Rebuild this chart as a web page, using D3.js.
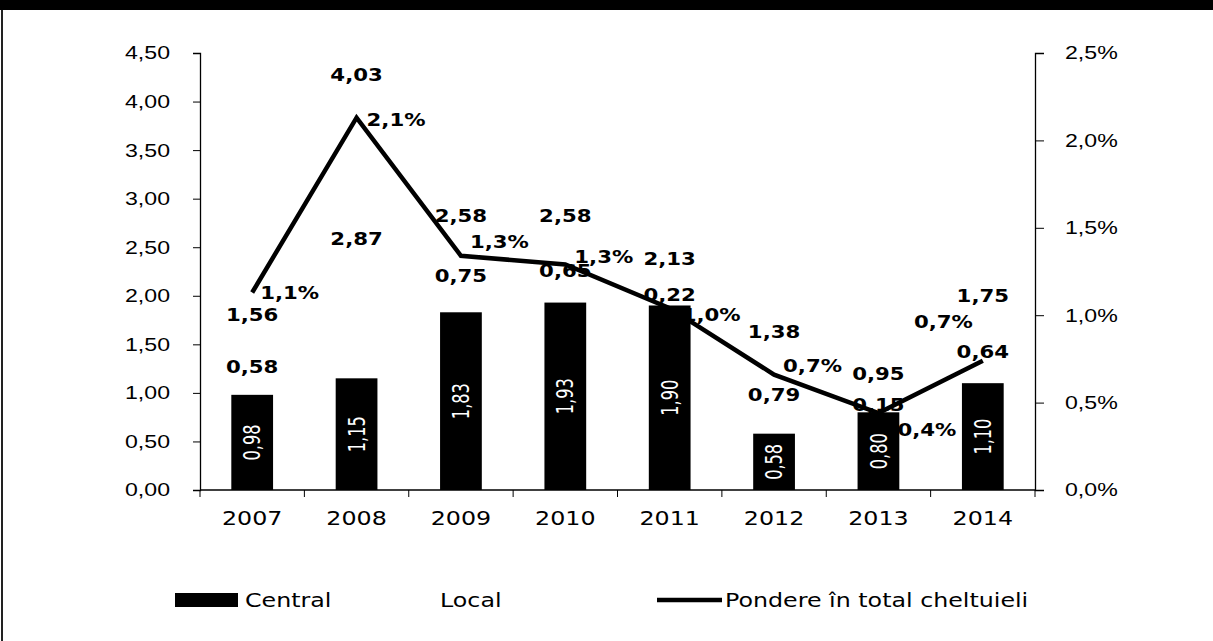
<!DOCTYPE html>
<html>
<head>
<meta charset="utf-8">
<script src="https://cdn.jsdelivr.net/npm/d3@7"></script>
<style>
  body { margin: 0; background: #fff; }
  svg { display: block; font-family: "DejaVu Sans", Verdana, sans-serif; }
</style>
</head>
<body>
<div id="main"></div>
<script>
// data
const years    = ["2007", "2008", "2009", "2010", "2011", "2012", "2013", "2014"];
const central  = [0.98, 1.15, 1.83, 1.93, 1.90, 0.58, 0.80, 1.10];
const local    = [0.58, 2.87, 0.75, 0.65, 0.22, 0.79, 0.15, 0.64];
const totals   = [1.56, 4.03, 2.58, 2.58, 2.13, 1.38, 0.95, 1.75];
const pondere  = [1.13, 2.13, 1.34, 1.29, 1.04, 0.66, 0.44, 0.74]; // % of total spending
const leftTicks  = [0, 0.5, 1, 1.5, 2, 2.5, 3, 3.5, 4, 4.5];
const rightTicks = [0, 0.5, 1, 1.5, 2, 2.5];
const legendLabels = ["Central", "Local", "Pondere în total cheltuieli"];

const ctx = {
  w: 1213, h: 641,
  left: 200, right: 1035, top: 53, bottom: 490,
  sx: 1.25 // the source is a stretched scan, text is wider than it is tall
};

// nudges of the percent labels around their points (dx, dy, anchor)
const pctNudge = [[8, 0], [10, 2], [9, -14], [9, -8], [12, 7], [9, -9], [19, 17], [-10, -39, "end"]];

const ro = d3.formatLocale({decimal: ",", thousands: ".", grouping: [3], currency: ["", ""]});
const f2 = ro.format(".2f"), f1 = ro.format(".1f");

function label(g, x, y, txt, opts = {}) {
  const t = g.append("g")
    .attr("transform", `translate(${x},${y}) scale(${ctx.sx},1)` + (opts.rotate ? ` rotate(${opts.rotate})` : ""))
    .append("text")
    .attr("text-anchor", opts.anchor || "middle")
    .attr("dy", "0.36em")
    .attr("font-size", opts.size || 17)
    .attr("font-weight", opts.weight || "normal")
    .attr("fill", opts.fill || "#000")
    .text(txt);
  if (opts.family) t.attr("font-family", opts.family);
  return t;
}

function createViz() {
  const svg = d3.select("#main").append("svg")
    .attr("width", ctx.w).attr("height", ctx.h);

  // frame
  svg.append("rect").attr("x", 0).attr("y", 0).attr("width", ctx.w).attr("height", 10).attr("fill", "#000");
  svg.append("line").attr("x1", 2).attr("x2", 2).attr("y1", 10).attr("y2", ctx.h)
     .attr("stroke", "#222").attr("stroke-width", 2);

  const x = d3.scaleBand().domain(years).range([ctx.left, ctx.right])
              .paddingInner(0.6).paddingOuter(0.3);
  const y = d3.scaleLinear().domain([0, 4.5]).range([ctx.bottom, ctx.top]);
  const y2 = d3.scaleLinear().domain([0, 2.5]).range([ctx.bottom, ctx.top]);
  const cx = d => x(d) + x.bandwidth() / 2;

  // axes
  const gl = svg.append("g").attr("transform", `translate(${ctx.left},0)`)
    .call(d3.axisLeft(y).tickValues(leftTicks).tickFormat(f2).tickSizeOuter(0).tickSize(7));
  gl.selectAll("text").attr("x", -30 / ctx.sx).attr("transform", `scale(${ctx.sx},1)`);

  const gr = svg.append("g").attr("transform", `translate(${ctx.right},0)`)
    .call(d3.axisRight(y2).tickValues(rightTicks).tickFormat(d => f1(d) + "%").tickSizeOuter(0).tickSize(9));
  gr.selectAll("text").attr("x", 30 / ctx.sx).attr("transform", `scale(${ctx.sx},1)`);

  [gl, gr].forEach(g => {
    g.select(".domain").attr("stroke", "#000").attr("stroke-width", 1.3);
    g.selectAll(".tick line").attr("stroke", "#000");
    g.selectAll("text").attr("font-size", 18.5).attr("font-family", null).attr("fill", "#000");
  });

  // x axis with ticks between categories
  const gx = svg.append("g");
  gx.append("line").attr("x1", ctx.left).attr("x2", ctx.right)
    .attr("y1", ctx.bottom).attr("y2", ctx.bottom).attr("stroke", "#000").attr("stroke-width", 1.3);
  const step = x.step();
  gx.selectAll(".xt").data(d3.range(years.length + 1)).join("line")
    .attr("class", "xt")
    .attr("x1", i => ctx.left + i * step).attr("x2", i => ctx.left + i * step)
    .attr("y1", ctx.bottom).attr("y2", ctx.bottom + 7).attr("stroke", "#000");
  years.forEach(yr => label(gx, cx(yr), 518, yr, {size: 19}));

  // central bars (local segment is white, only its labels show)
  svg.append("g").selectAll("rect").data(years).join("rect")
    .attr("x", d => x(d)).attr("width", x.bandwidth())
    .attr("y", (d, i) => y(central[i]))
    .attr("height", (d, i) => y(0) - y(central[i]))
    .attr("fill", "#000");

  const gLab = svg.append("g");
  years.forEach((yr, i) => {
    // central value inside the bar
    label(gLab, cx(yr), (y(0) + y(central[i])) / 2, f2(central[i]),
      {rotate: -90, fill: "#fff", size: 18, family: "'Liberation Sans Narrow','DejaVu Sans Condensed',sans-serif"});
  });

  // line
  const line = d3.line().x((d, i) => cx(years[i])).y(d => y2(d));
  svg.append("path").datum(pondere)
    .attr("d", line).attr("fill", "none")
    .attr("stroke", "#000").attr("stroke-width", 4.5).attr("stroke-linejoin", "miter");

  years.forEach((yr, i) => {
    // local value centred in the (invisible) local segment
    label(gLab, cx(yr), y(central[i] + local[i] / 2), f2(local[i]), {weight: "bold"});
    // total above the stack
    label(gLab, cx(yr), y(totals[i]) - 24, f2(totals[i]), {weight: "bold"});
    // share
    const n = pctNudge[i];
    label(gLab, cx(yr) + n[0], y2(pondere[i]) + n[1], f1(pondere[i]) + "%",
      {weight: "bold", anchor: n[2] === "end" ? "end" : "start"});
  });

  // legend
  const lg = svg.append("g");
  lg.append("rect").attr("x", 175).attr("y", 593).attr("width", 63).attr("height", 14).attr("fill", "#000");
  label(lg, 245, 600, legendLabels[0], {anchor: "start", size: 19});
  label(lg, 440, 600, legendLabels[1], {anchor: "start", size: 19});
  lg.append("line").attr("x1", 657).attr("x2", 722).attr("y1", 600).attr("y2", 600)
    .attr("stroke", "#000").attr("stroke-width", 4.5);
  label(lg, 725, 600, legendLabels[2], {anchor: "start", size: 19});
}

createViz();
</script>
</body>
</html>
